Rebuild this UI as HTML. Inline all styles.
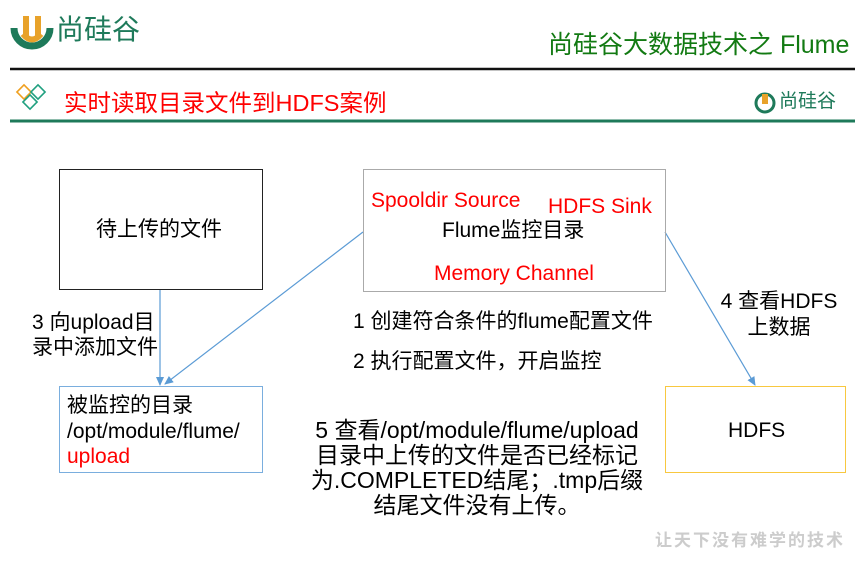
<!DOCTYPE html>
<html><head><meta charset="utf-8"><style>
body{margin:0;width:860px;height:562px;background:#fff;position:relative;overflow:hidden;font-family:"Liberation Sans","Noto Sans CJK SC",sans-serif;}
.t{position:absolute;white-space:nowrap;line-height:1;}
.box{position:absolute;box-sizing:border-box;}
</style></head><body>
<svg width="860" height="562" style="position:absolute;left:0;top:0">
<defs><marker id="a" markerWidth="10" markerHeight="10" refX="8" refY="5" orient="auto" markerUnits="userSpaceOnUse"><path d="M0,1 L9,5 L0,9 z" fill="#5b9bd5"/></marker></defs>
<path d="M14,28 A18,18 0 1 0 50,28" fill="none" stroke="#1e7a5a" stroke-width="7"/>
<rect x="23" y="16" width="6" height="20" fill="#e8a22a"/><rect x="35" y="16" width="6" height="20" fill="#e8a22a"/><path d="M23,34 Q32,45 41,34" stroke="#e8a22a" stroke-width="6" fill="none"/>
<line x1="10" y1="69" x2="855" y2="69" stroke="#111" stroke-width="2.5"/>
<line x1="10" y1="121" x2="855" y2="121" stroke="#1e7a5a" stroke-width="3"/>
<rect x="19" y="87" width="10" height="10" transform="rotate(45 24 92)" fill="none" stroke="#f0a020" stroke-width="1.6"/>
<rect x="33" y="87" width="10" height="10" transform="rotate(45 38 92)" fill="none" stroke="#20a080" stroke-width="1.6"/>
<rect x="25" y="97" width="10" height="10" transform="rotate(45 30 102)" fill="none" stroke="#20a080" stroke-width="1.6"/>
<circle cx="765" cy="103" r="9" fill="none" stroke="#1e7a5a" stroke-width="3"/><rect x="762" y="94" width="6" height="10" fill="#e8a22a"/>
<line x1="160" y1="289" x2="160" y2="385" stroke="#5b9bd5" stroke-width="1.2" marker-end="url(#a)"/>
<line x1="363" y1="232" x2="165" y2="384" stroke="#5b9bd5" stroke-width="1.2" marker-end="url(#a)"/>
<line x1="665" y1="232" x2="755" y2="385" stroke="#5b9bd5" stroke-width="1.2" marker-end="url(#a)"/>
</svg>
<div class="t" style="left:56px;top:16px;font-size:28px;color:#1e7a5a">尚硅谷</div>
<div class="t" style="left:548px;top:33px;font-size:25px;color:#127a12">尚硅谷大数据技术之 Flume</div>
<div class="t" style="left:64px;top:92px;font-size:23.5px;color:#ff0000">实时读取目录文件到HDFS案例</div>
<div class="t" style="left:779px;top:92px;font-size:19px;color:#1e7a5a">尚硅谷</div>
<div class="box" style="left:59px;top:169px;width:204px;height:121px;border:1px solid #222"></div>
<div class="t" style="left:96px;top:219px;font-size:21px">待上传的文件</div>
<div class="box" style="left:363px;top:169px;width:303px;height:123px;border:1px solid #aaa"></div>
<div class="t" style="left:371px;top:190px;font-size:21px;color:#f00">Spooldir Source</div>
<div class="t" style="left:548px;top:196px;font-size:21px;color:#f00">HDFS Sink</div>
<div class="t" style="left:442px;top:220px;font-size:21px">Flume监控目录</div>
<div class="t" style="left:434px;top:263px;font-size:21px;color:#f00">Memory Channel</div>
<div class="t" style="left:32px;top:310px;font-size:21px;line-height:25px">3 向upload目<br>录中添加文件</div>
<div class="box" style="left:59px;top:386px;width:204px;height:87px;border:1px solid #7aaede"></div>
<div class="t" style="left:67px;top:393px;font-size:21px;line-height:25.5px">被监控的目录<br>/opt/module/flume/<br><span style="color:#f00">upload</span></div>
<div class="t" style="left:353px;top:311px;font-size:21px">1 创建符合条件的flume配置文件</div>
<div class="t" style="left:353px;top:351px;font-size:21px">2 执行配置文件，开启监控</div>
<div class="t" style="left:277px;width:400px;top:418px;font-size:23px;line-height:25px;text-align:center">5 查看/opt/module/flume/upload<br>目录中上传的文件是否已经标记<br>为.COMPLETED结尾；.tmp后缀<br>结尾文件没有上传。</div>
<div class="t" style="left:699px;width:160px;top:289px;font-size:21px;line-height:26px;text-align:center">4 查看HDFS<br>上数据</div>
<div class="box" style="left:665px;top:386px;width:181px;height:87px;border:1.5px solid #f8c840"></div>
<div class="t" style="left:728px;top:420px;font-size:21px">HDFS</div>
<div class="t" style="left:655px;top:532px;font-size:17px;color:#ccc;letter-spacing:2px;font-weight:bold">让天下没有难学的技术</div>
</body></html>
